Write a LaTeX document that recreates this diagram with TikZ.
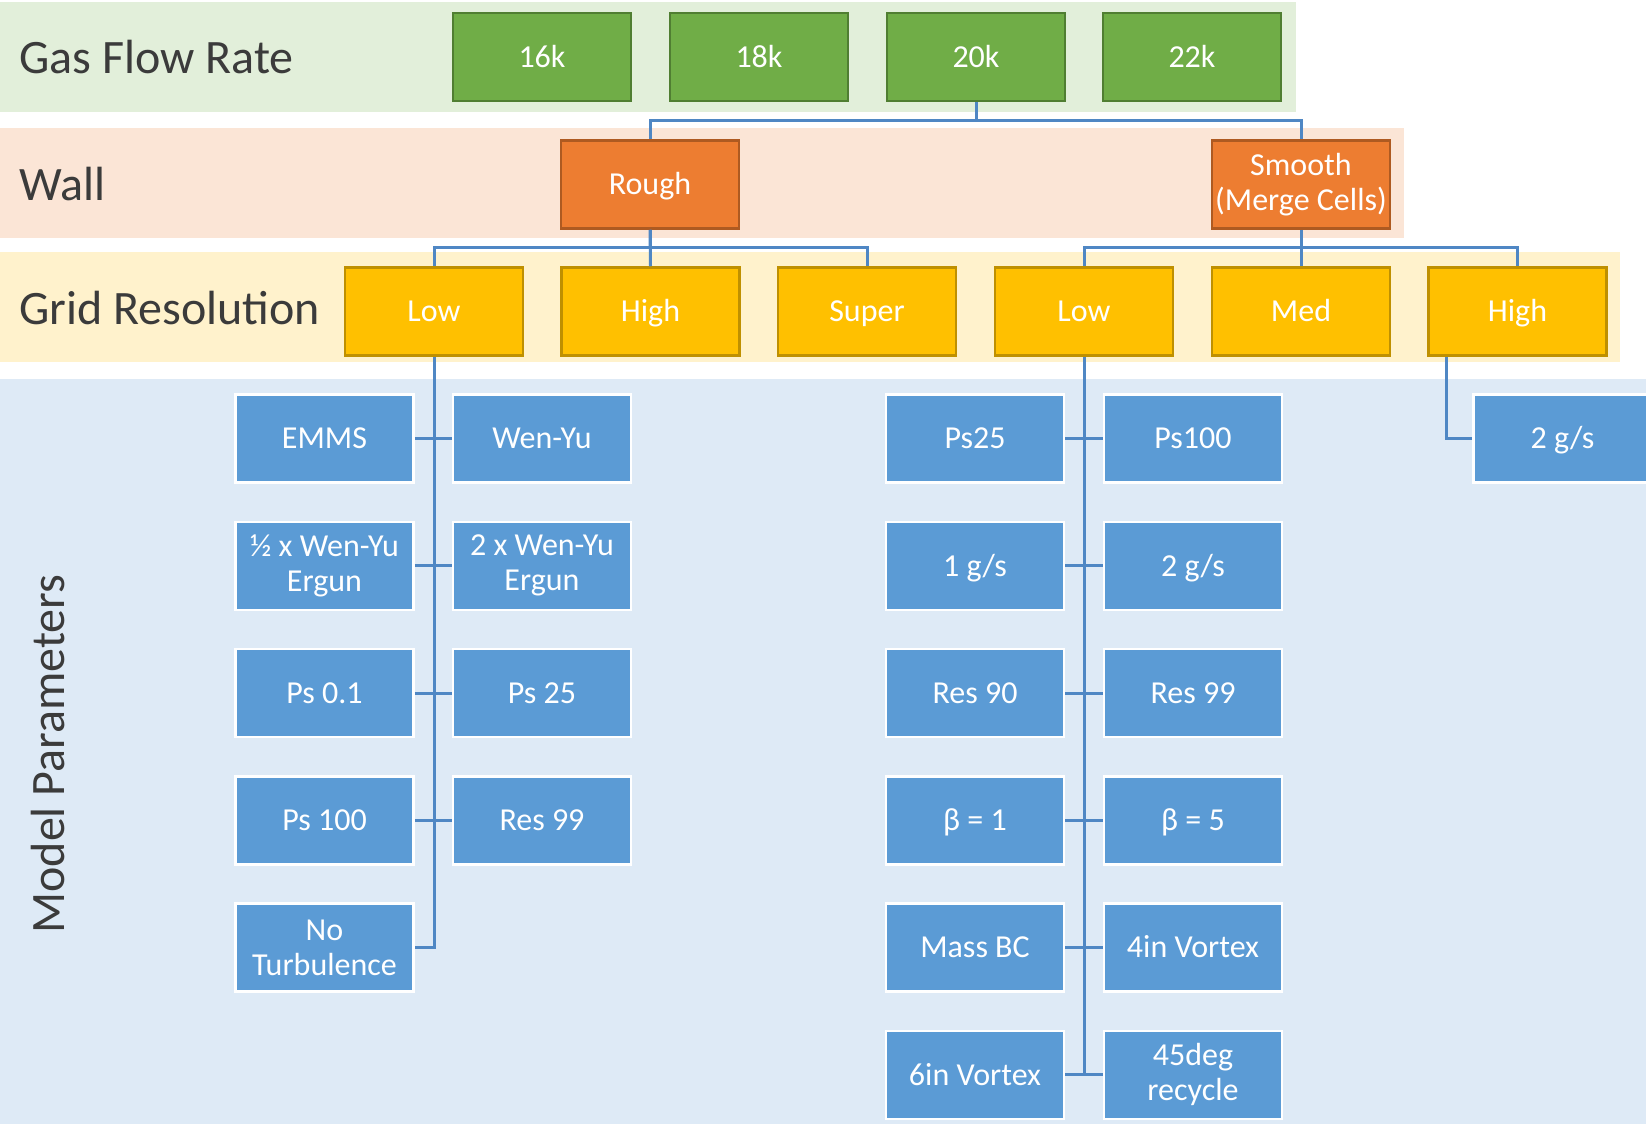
\documentclass[tikz,border=0pt]{standalone}
\usepackage{fontspec}
\setmainfont{Carlito}
\usetikzlibrary{calc}
\definecolor{bgGreen}{HTML}{E2EFDA}
\definecolor{boxGreen}{HTML}{70AD47}
\definecolor{bdGreen}{HTML}{507E32}
\definecolor{bgOrange}{HTML}{FBE5D6}
\definecolor{boxOrange}{HTML}{ED7D31}
\definecolor{bdOrange}{HTML}{AE5A21}
\definecolor{bgYellow}{HTML}{FFF2CC}
\definecolor{boxYellow}{HTML}{FFC000}
\definecolor{bdYellow}{HTML}{BF9000}
\definecolor{bgBlue}{HTML}{DEEAF6}
\definecolor{boxBlue}{HTML}{5B9BD5}
\definecolor{lineBlue}{HTML}{4F87C4}
\definecolor{labelGray}{HTML}{3B3B3B}
\begin{document}
\begin{tikzpicture}[x=1pt,y=-1pt,
  box/.style={minimum width=178pt,minimum height=88pt,inner sep=0pt,align=center,text=white,
    font=\fontsize{32}{35}\selectfont,line width=2.5pt,text height=20.6pt,text depth=0pt},
  twoline/.style={text height={},text depth={}},
  gbox/.style={box,fill=boxGreen,draw=bdGreen},
  obox/.style={box,fill=boxOrange,draw=bdOrange},
  ybox/.style={box,fill=boxYellow,draw=bdYellow},
  bbox/.style={box,fill=boxBlue,draw=white},
  rowlabel/.style={anchor=west,text=labelGray,font=\fontsize{48}{50}\selectfont,inner sep=0pt},
  conn/.style={draw=lineBlue,line width=3pt}]
\useasboundingbox (0,0) rectangle (1646,1124);
\clip (0,0) rectangle (1646,1124);
\fill[white] (0,0) rectangle (1646,1124);
% bands
\fill[bgGreen] (0,2) rectangle (1296,112);
\fill[bgOrange] (0,128) rectangle (1404,238);
\fill[bgYellow] (0,252) rectangle (1620,362);
\fill[bgBlue] (0,379) rectangle (1646,1124);
% row labels
\node[rowlabel] (lgas) at (19,57) {Gas Flow Rate};
\node[rowlabel] (lwall) at (19,184) {Wall};
\node[rowlabel] (lgrid) at (19,308) {Grid Resolution};
\node[rowlabel,anchor=center,rotate=90] (lmodel) at (48,754) {Model Parameters};
% gas flow
\node[gbox] (g16) at (542,57) {16k};
\node[gbox] (g18) at (759,57) {18k};
\node[gbox] (g20) at (976,57) {20k};
\node[gbox] (g22) at (1192,57) {22k};
% wall
\node[obox] (rough) at (650,184.5) {Rough};
\node[obox,twoline] (smooth) at (1301,184.5) {Smooth\\(Merge Cells)};
% grid
\node[ybox] (y1) at (434,311.5) {Low};
\node[ybox] (y2) at (650.5,311.5) {High};
\node[ybox] (y3) at (867,311.5) {Super};
\node[ybox] (y4) at (1084,311.5) {Low};
\node[ybox] (y5) at (1301,311.5) {Med};
\node[ybox] (y6) at (1517.5,311.5) {High};
% model parameters
\node[bbox] (a1) at (324.5,438.5) {EMMS};
\node[bbox,twoline] (a2) at (324.5,565.75) {½ x Wen-Yu\\Ergun};
\node[bbox] (a3) at (324.5,693) {Ps 0.1};
\node[bbox] (a4) at (324.5,820.25) {Ps 100};
\node[bbox,twoline] (a5) at (324.5,947.5) {No\\Turbulence};
\node[bbox] (b1) at (542,438.5) {Wen-Yu};
\node[bbox,twoline] (b2) at (542,565.75) {2 x Wen-Yu\\Ergun};
\node[bbox] (b3) at (542,693) {Ps 25};
\node[bbox] (b4) at (542,820.25) {Res 99};
\node[bbox] (c1) at (975,438.5) {Ps25};
\node[bbox] (c2) at (975,565.75) {1 g/s};
\node[bbox] (c3) at (975,693) {Res 90};
\node[bbox] (c4) at (975,820.25) {β = 1};
\node[bbox] (c5) at (975,947.5) {Mass BC};
\node[bbox] (c6) at (975,1074.75) {6in Vortex};
\node[bbox] (d1) at (1193,438.5) {Ps100};
\node[bbox] (d2) at (1193,565.75) {2 g/s};
\node[bbox] (d3) at (1193,693) {Res 99};
\node[bbox] (d4) at (1193,820.25) {β = 5};
\node[bbox] (d5) at (1193,947.5) {4in Vortex};
\node[bbox,twoline] (d6) at (1193,1074.75) {45deg\\recycle};
\node[bbox] (e1) at (1562.5,438.5) {2 g/s};
% connectors
\draw[conn] (g20.south) -- ++(0,18) -| (rough.north);
\draw[conn] (g20.south) -- ++(0,18) -| (smooth.north);
\draw[conn] (rough.south) -- ++(0,18) -| (y1.north);
\draw[conn] (rough.south) -- (y2.north);
\draw[conn] (rough.south) -- ++(0,18) -| (y3.north);
\draw[conn] (smooth.south) -- ++(0,18) -| (y4.north);
\draw[conn] (smooth.south) -- (y5.north);
\draw[conn] (smooth.south) -- ++(0,18) -| (y6.north);
\draw[conn] (y1.south) |- (a5.east);
\draw[conn] (a1.east) -- (b1.west);
\draw[conn] (a2.east) -- (b2.west);
\draw[conn] (a3.east) -- (b3.west);
\draw[conn] (a4.east) -- (b4.west);
\draw[conn] (y4.south) -- (y4.south |- c6.east);
\draw[conn] (c1.east) -- (d1.west);
\draw[conn] (c2.east) -- (d2.west);
\draw[conn] (c3.east) -- (d3.west);
\draw[conn] (c4.east) -- (d4.west);
\draw[conn] (c5.east) -- (d5.west);
\draw[conn] (c6.east) -- (d6.west);
\draw[conn] ($(y6.south west)+(19,0)$) |- (e1.west);
\end{tikzpicture}
\end{document}
